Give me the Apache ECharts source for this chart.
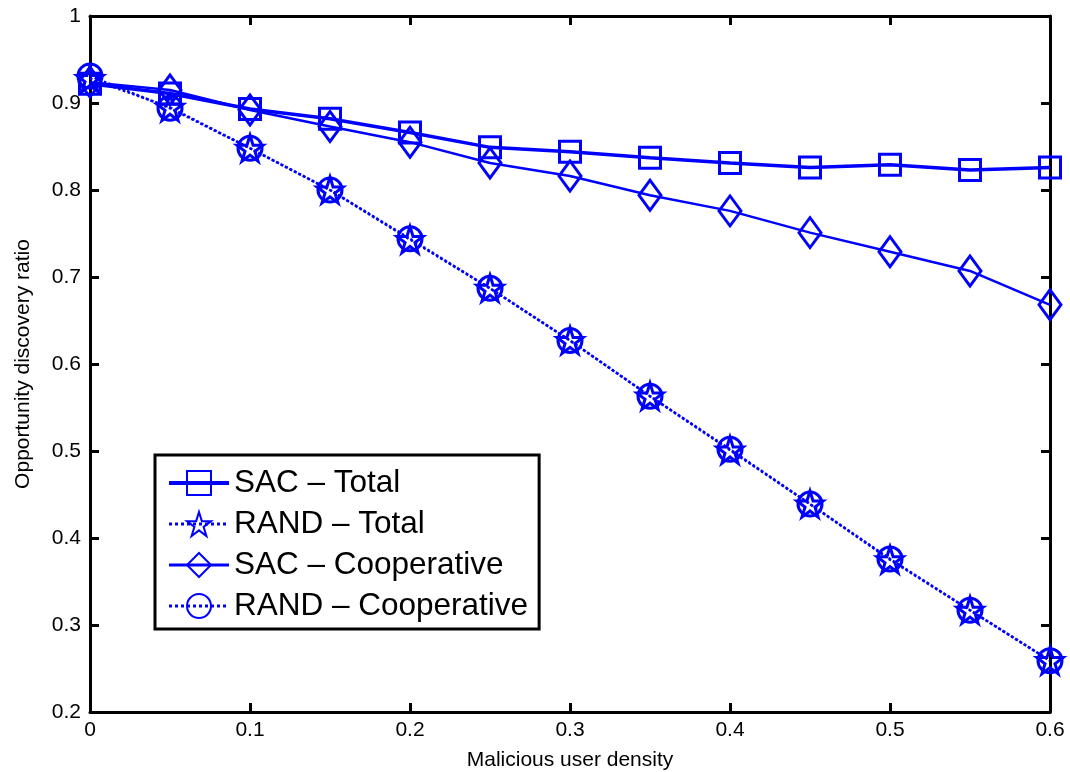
<!DOCTYPE html>
<html>
<head>
<meta charset="utf-8">
<script src="https://cdn.jsdelivr.net/npm/echarts@6/dist/echarts.min.js"></script>
<style>html,body{margin:0;padding:0;background:#fff;}#c{width:1070px;height:772px;}</style>
</head>
<body>
<div id="c"></div>
<script>
const xValues = [0, 0.05, 0.1, 0.15, 0.2, 0.25, 0.3, 0.35, 0.4, 0.45, 0.5, 0.55, 0.6];
const sacTotal = [0.922, 0.911, 0.893, 0.882, 0.866, 0.849, 0.844, 0.837, 0.831, 0.826, 0.829, 0.823, 0.826];
const randTotal = [0.928, 0.895, 0.848, 0.800, 0.743, 0.687, 0.627, 0.563, 0.501, 0.439, 0.375, 0.317, 0.259];
const sacCoop = [0.924, 0.915, 0.892, 0.873, 0.855, 0.831, 0.816, 0.794, 0.776, 0.751, 0.729, 0.707, 0.668];
const randCoop = [0.931, 0.894, 0.848, 0.800, 0.744, 0.687, 0.627, 0.563, 0.502, 0.439, 0.376, 0.317, 0.259];
const seriesNames = ['SAC \u2013 Total', 'RAND \u2013 Total', 'SAC \u2013 Cooperative', 'RAND \u2013 Cooperative'];

const BLUE = '#0000ff';
const FONT = "'Liberation Sans', Arial, sans-serif";
const star = 'path://M50 0 L61.23 34.55 L97.55 34.55 L68.17 55.9 L79.39 90.45 L50 69.1 L20.61 90.45 L31.83 55.9 L2.45 34.55 L38.77 34.55 Z';
const lineWidths = [3.5, 2.5, 2.5, 2.5];

function pairs(ys) { return xValues.map((x, i) => [x, ys[i]]); }
function mk(name, ys, symbol, size, lineType, lw) {
  return {
    name: name, type: 'line', data: pairs(ys), xAxisIndex: 0, yAxisIndex: 0,
    symbol: symbol, symbolSize: size, showAllSymbol: true,
    lineStyle: { color: BLUE, width: lw, type: lineType },
    itemStyle: { color: 'rgba(0,0,0,0)', borderColor: BLUE, borderWidth: 3 },
    emphasis: { disabled: true }, animation: false
  };
}

const axisLine = { show: true, onZero: false, lineStyle: { color: '#000', width: 3 } };
const tickIn = { show: true, inside: true, length: 9, lineStyle: { color: '#000', width: 3 } };

const chart = echarts.init(document.getElementById('c'));
chart.setOption({
  backgroundColor: '#fff',
  animation: false,
  grid: { left: 90, right: 20, top: 16, bottom: 60, containLabel: false, outerBoundsMode: 'none' },
  xAxis: [{
    type: 'value', min: 0, max: 0.6, interval: 0.1, position: 'bottom',
    name: 'Malicious user density', nameLocation: 'middle', nameGap: 38,
    nameTextStyle: { fontFamily: FONT, fontSize: 21, color: '#000' },
    axisLine: axisLine, axisTick: tickIn, splitLine: { show: false },
    axisLabel: { fontFamily: FONT, fontSize: 21, color: '#000', margin: 8 }
  }, {
    type: 'value', min: 0, max: 0.6, interval: 0.1, position: 'top',
    axisLine: axisLine, axisTick: tickIn, splitLine: { show: false }, axisLabel: { show: false }
  }],
  yAxis: [{
    type: 'value', min: 0.2, max: 1, interval: 0.1, position: 'left',
    name: 'Opportunity discovery ratio', nameLocation: 'middle', nameGap: 56,
    nameTextStyle: { fontFamily: FONT, fontSize: 21, color: '#000' },
    axisLine: axisLine, axisTick: tickIn, splitLine: { show: false },
    axisLabel: { fontFamily: FONT, fontSize: 21, color: '#000', margin: 9 }
  }, {
    type: 'value', min: 0.2, max: 1, interval: 0.1, position: 'right',
    axisLine: axisLine, axisTick: tickIn, splitLine: { show: false }, axisLabel: { show: false }
  }],
  legend: {
    orient: 'vertical', left: 155, top: 455,
    data: seriesNames.map((n, i) => ({ name: n, lineStyle: { width: lineWidths[i] + 0.5 } })),
    backgroundColor: '#fff', borderColor: '#000', borderWidth: 3, borderRadius: 0,
    padding: [12, 11, 7, 12], itemGap: 9, itemWidth: 60, itemHeight: 30, itemTextGap: 7,
    textStyle: { fontFamily: FONT, fontSize: 31.5, color: '#000' },
    selectedMode: false
  },
  series: [
    mk(seriesNames[0], sacTotal, 'rect', 21, 'solid', lineWidths[0]),
    mk(seriesNames[1], randTotal, star, 26, 'dotted', lineWidths[1]),
    mk(seriesNames[2], sacCoop, 'diamond', [22, 30], 'solid', lineWidths[2]),
    mk(seriesNames[3], randCoop, 'circle', 24, 'dotted', lineWidths[3])
  ]
});
</script>
</body>
</html>
